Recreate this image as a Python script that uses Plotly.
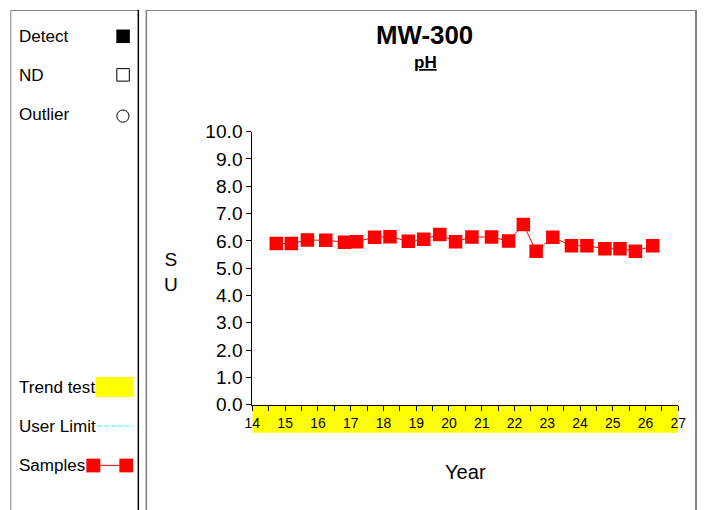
import plotly.graph_objects as go

# ---- data ----
years = [14.73, 15.19, 15.68, 16.24, 16.81, 17.18, 17.73, 18.20, 18.76, 19.23, 19.72, 20.20,
         20.70, 21.30, 21.82, 22.27, 22.66, 23.17, 23.74, 24.21, 24.76, 25.22, 25.69, 26.22]
ph_values = [5.90, 5.90, 6.03, 6.02, 5.95, 5.97, 6.13, 6.15, 5.98, 6.06, 6.23, 5.97,
             6.14, 6.14, 5.99, 6.60, 5.62, 6.13, 5.82, 5.82, 5.71, 5.71, 5.62, 5.82]
x_range = [14, 27]
y_range = [0, 10]
title_text = "MW-300"
subtitle_text = "pH"
y_label = "S<br>U"
x_label = "Year"
legend_labels = ["Detect", "ND", "Outlier", "Trend test", "User Limit", "Samples"]

W, H = 705, 510
FONT = "Liberation Sans, Arial, sans-serif"
# measured page -> picture mapping of the viewer
SX, CX = 0.977, 7.7
SY, CY = 0.957, 10.5
FS = 1 / ((SX + SY) / 2)


def px(x):
    return ((x - CX) / SX) / W


def py(y):
    return 1 - ((y - CY) / SY) / H


def fs(s):
    return round(s * FS, 2)


fig = go.Figure()
fig.add_trace(go.Scatter(
    x=years, y=ph_values, mode="lines+markers",
    line=dict(color="#ff0000", width=1),
    marker=dict(symbol="square", size=13.5, color="#ff0000", line=dict(width=0)),
    showlegend=False, hoverinfo="x+y",
))

TOP = 11.0
shapes = []
# panel borders
shapes += [
    dict(type="line", xref="paper", yref="paper", x0=px(10.5), x1=px(138), y0=py(TOP), y1=py(TOP),
         line=dict(color="#808080", width=1)),
    dict(type="line", xref="paper", yref="paper", x0=px(10.5), x1=px(10.5), y0=py(TOP), y1=py(530),
         line=dict(color="#808080", width=1)),
    dict(type="line", xref="paper", yref="paper", x0=px(138), x1=px(138), y0=py(TOP - 0.5), y1=py(530),
         line=dict(color="#000000", width=1.5)),
    dict(type="line", xref="paper", yref="paper", x0=px(146), x1=1, y0=py(TOP), y1=py(TOP),
         line=dict(color="#808080", width=1)),
    dict(type="line", xref="paper", yref="paper", x0=px(146), x1=px(146), y0=py(TOP), y1=py(530),
         line=dict(color="#808080", width=1.5)),
    dict(type="line", xref="paper", yref="paper", x0=704 / W, x1=704 / W, y0=py(TOP), y1=py(530),
         line=dict(color="#808080", width=2)),
]
# trend test band under x axis
shapes.append(dict(type="rect", xref="x", yref="paper", x0=x_range[0], x1=x_range[1],
                   y0=py(432.5), y1=py(404.5), fillcolor="#ffff00", line=dict(width=0), layer="below"))
# legend symbols
shapes += [
    dict(type="rect", xref="paper", yref="paper", x0=px(116), x1=px(129.5), y0=py(43.5), y1=py(30),
         fillcolor="#000000", line=dict(color="#000000", width=0)),
    dict(type="rect", xref="paper", yref="paper", x0=px(116.5), x1=px(129), y0=py(81.5), y1=py(69),
         fillcolor="rgba(0,0,0,0)", line=dict(color="#000000", width=1)),
    dict(type="circle", xref="paper", yref="paper", x0=px(116.5), x1=px(128.7), y0=py(122.5), y1=py(110.3),
         fillcolor="rgba(0,0,0,0)", line=dict(color="#000000", width=1)),
    dict(type="rect", xref="paper", yref="paper", x0=px(95.3), x1=px(133), y0=py(396.7), y1=py(376.7),
         fillcolor="#ffff00", line=dict(width=0)),
    dict(type="line", xref="paper", yref="paper", x0=px(97), x1=px(133), y0=py(425.8), y1=py(425.8),
         line=dict(color="#66ffff", width=1.5, dash="4px,3px")),
    dict(type="line", xref="paper", yref="paper", x0=px(93), x1=px(126), y0=py(465), y1=py(465),
         line=dict(color="#ff0000", width=1)),
    dict(type="rect", xref="paper", yref="paper", x0=px(86), x1=px(100), y0=py(472), y1=py(458.3),
         fillcolor="#ff0000", line=dict(width=0)),
    dict(type="rect", xref="paper", yref="paper", x0=px(119), x1=px(132.7), y0=py(472), y1=py(458.3),
         fillcolor="#ff0000", line=dict(width=0)),
]

annotations = []
legend_y = [37, 76, 115, 387, 426.5, 465.5]
for lab, yy in zip(legend_labels, legend_y):
    annotations.append(dict(text=lab, xref="paper", yref="paper", x=px(17), y=py(yy),
                            xanchor="left", yanchor="middle", showarrow=False,
                            font=dict(family=FONT, size=fs(16.5), color="#000000")))
annotations += [
    dict(text="<b>" + title_text + "</b>", xref="paper", yref="paper", x=px(424), y=py(35),
         xanchor="center", yanchor="middle", showarrow=False,
         font=dict(family=FONT, size=fs(25), color="#000000")),
    dict(text="<b><u>" + subtitle_text + "</u></b>", xref="paper", yref="paper", x=px(425), y=py(63),
         xanchor="center", yanchor="middle", showarrow=False,
         font=dict(family=FONT, size=fs(16.5), color="#000000")),
    dict(text=y_label, xref="paper", yref="paper", x=px(171), y=py(272.5),
         xanchor="center", yanchor="middle", showarrow=False,
         font=dict(family=FONT, size=fs(18.5), color="#000000")),
    dict(text=x_label, xref="paper", yref="paper", x=px(465.5), y=py(472),
         xanchor="center", yanchor="middle", showarrow=False,
         font=dict(family=FONT, size=fs(19.5), color="#000000")),
]

fig.update_layout(
    width=W, height=H, autosize=False,
    margin=dict(l=0, r=0, t=0, b=0, pad=0),
    paper_bgcolor="#ffffff", plot_bgcolor="#ffffff",
    shapes=shapes, annotations=annotations, showlegend=False,
    xaxis=dict(domain=[px(252), px(677.8)], range=x_range, tick0=14, dtick=1,
               showgrid=False, zeroline=False, showline=True, linecolor="#000000", linewidth=1,
               ticks="outside", ticklen=5, tickcolor="#000000", tickwidth=1,
               minor=dict(dtick=0.5, ticks="outside", ticklen=5, tickcolor="#000000", tickwidth=1, showgrid=False),
               tickfont=dict(family=FONT, size=fs(13.5), color="#000000"), fixedrange=True),
    yaxis=dict(domain=[py(404.5), py(131.8)], range=y_range, tick0=0, dtick=1, tickformat=".1f",
               showgrid=False, zeroline=False, showline=True, linecolor="#000000", linewidth=1,
               ticks="outside", ticklen=5, tickcolor="#000000", tickwidth=1,
               tickfont=dict(family=FONT, size=fs(18.5), color="#000000"), fixedrange=True),
)

fig.write_html(
    "out.html", config={"displayModeBar": False},
    post_script=("document.documentElement.style.margin='0';document.documentElement.style.padding='0';"
                 "document.body.style.margin='0';document.body.style.padding='0';"),
)
